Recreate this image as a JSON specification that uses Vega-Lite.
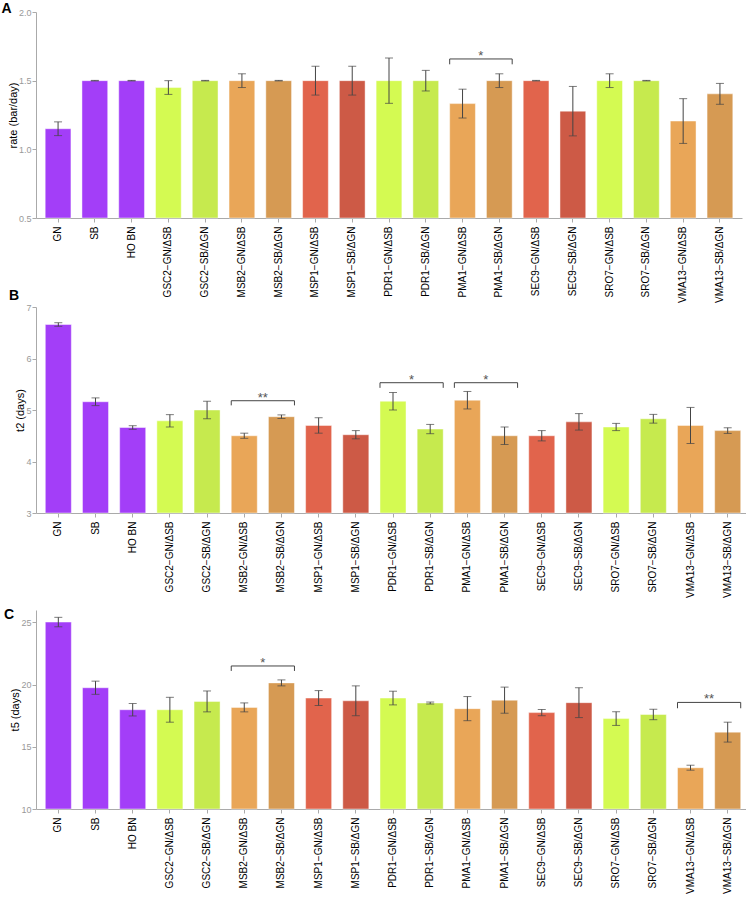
{
  "$schema": "https://vega.github.io/schema/vega-lite/v6.json",
  "padding": {"left": 1, "top": 2, "right": 0, "bottom": 0},
  "background": "white",
  "spacing": -14,
  "config": {
    "font": "Liberation Sans",
    "view": {"stroke": null},
    "axis": {"grid": false, "domainColor": "#aaaaaa", "tickColor": "#aaaaaa", "tickSize": 4, "titleFontWeight": "normal", "titleFontSize": 11, "titleColor": "#000000", "titleFont": "Liberation Sans", "labelFont": "Liberation Sans"},
    "axisX": {"labelAngle": -90, "labelFontSize": 10, "labelColor": "#000000", "labelPadding": 4, "title": null},
    "axisY": {"labelFontSize": 9, "labelColor": "#999999", "titlePadding": 0, "labelPadding": 1},
    "title": {"anchor": "start", "frame": "bounds", "fontSize": 14, "fontWeight": "bold", "font": "Liberation Sans", "color": "#000000", "baseline": "alphabetic", "dx": -6}
  },
  "datasets": {
    "rate": [
      {"strain": "GN", "v": 1.15, "e": 0.05},
      {"strain": "SB", "v": 1.5, "e": 0.002},
      {"strain": "HO BN", "v": 1.5, "e": 0.002},
      {"strain": "GSC2−GN/ΔSB", "v": 1.45, "e": 0.05},
      {"strain": "GSC2−SB/ΔGN", "v": 1.5, "e": 0.002},
      {"strain": "MSB2−GN/ΔSB", "v": 1.5, "e": 0.05},
      {"strain": "MSB2−SB/ΔGN", "v": 1.5, "e": 0.002},
      {"strain": "MSP1−GN/ΔSB", "v": 1.5, "e": 0.105},
      {"strain": "MSP1−SB/ΔGN", "v": 1.5, "e": 0.105},
      {"strain": "PDR1−GN/ΔSB", "v": 1.5, "e": 0.165},
      {"strain": "PDR1−SB/ΔGN", "v": 1.5, "e": 0.075},
      {"strain": "PMA1−GN/ΔSB", "v": 1.333, "e": 0.105},
      {"strain": "PMA1−SB/ΔGN", "v": 1.5, "e": 0.05},
      {"strain": "SEC9−GN/ΔSB", "v": 1.5, "e": 0.002},
      {"strain": "SEC9−SB/ΔGN", "v": 1.278, "e": 0.18},
      {"strain": "SRO7−GN/ΔSB", "v": 1.5, "e": 0.05},
      {"strain": "SRO7−SB/ΔGN", "v": 1.5, "e": 0.002},
      {"strain": "VMA13−GN/ΔSB", "v": 1.206, "e": 0.163},
      {"strain": "VMA13−SB/ΔGN", "v": 1.404, "e": 0.076}
    ],
    "t2": [
      {"strain": "GN", "v": 6.66, "e": 0.035},
      {"strain": "SB", "v": 5.16, "e": 0.075},
      {"strain": "HO BN", "v": 4.66, "e": 0.035},
      {"strain": "GSC2−GN/ΔSB", "v": 4.79, "e": 0.12},
      {"strain": "GSC2−SB/ΔGN", "v": 5.0, "e": 0.17},
      {"strain": "MSB2−GN/ΔSB", "v": 4.5, "e": 0.05},
      {"strain": "MSB2−SB/ΔGN", "v": 4.87, "e": 0.035},
      {"strain": "MSP1−GN/ΔSB", "v": 4.7, "e": 0.15},
      {"strain": "MSP1−SB/ΔGN", "v": 4.52, "e": 0.08},
      {"strain": "PDR1−GN/ΔSB", "v": 5.17, "e": 0.17},
      {"strain": "PDR1−SB/ΔGN", "v": 4.63, "e": 0.09},
      {"strain": "PMA1−GN/ΔSB", "v": 5.19, "e": 0.17},
      {"strain": "PMA1−SB/ΔGN", "v": 4.5, "e": 0.17},
      {"strain": "SEC9−GN/ΔSB", "v": 4.5, "e": 0.1},
      {"strain": "SEC9−SB/ΔGN", "v": 4.77, "e": 0.16},
      {"strain": "SRO7−GN/ΔSB", "v": 4.67, "e": 0.07},
      {"strain": "SRO7−SB/ΔGN", "v": 4.83, "e": 0.085},
      {"strain": "VMA13−GN/ΔSB", "v": 4.7, "e": 0.35},
      {"strain": "VMA13−SB/ΔGN", "v": 4.6, "e": 0.055}
    ],
    "t5": [
      {"strain": "GN", "v": 25.03, "e": 0.38},
      {"strain": "SB", "v": 19.75, "e": 0.53},
      {"strain": "HO BN", "v": 17.98, "e": 0.5},
      {"strain": "GSC2−GN/ΔSB", "v": 17.98, "e": 1.0},
      {"strain": "GSC2−SB/ΔGN", "v": 18.65, "e": 0.84},
      {"strain": "MSB2−GN/ΔSB", "v": 18.17, "e": 0.36},
      {"strain": "MSB2−SB/ΔGN", "v": 20.14, "e": 0.24},
      {"strain": "MSP1−GN/ΔSB", "v": 18.92, "e": 0.6},
      {"strain": "MSP1−SB/ΔGN", "v": 18.7, "e": 1.2},
      {"strain": "PDR1−GN/ΔSB", "v": 18.92, "e": 0.55},
      {"strain": "PDR1−SB/ΔGN", "v": 18.52, "e": 0.08},
      {"strain": "PMA1−GN/ΔSB", "v": 18.07, "e": 0.97},
      {"strain": "PMA1−SB/ΔGN", "v": 18.75, "e": 1.05},
      {"strain": "SEC9−GN/ΔSB", "v": 17.75, "e": 0.25},
      {"strain": "SEC9−SB/ΔGN", "v": 18.55, "e": 1.2},
      {"strain": "SRO7−GN/ΔSB", "v": 17.27, "e": 0.55},
      {"strain": "SRO7−SB/ΔGN", "v": 17.6, "e": 0.42},
      {"strain": "VMA13−GN/ΔSB", "v": 13.32, "e": 0.2},
      {"strain": "VMA13−SB/ΔGN", "v": 16.18, "e": 0.8}
    ],
    "brA": [
      {"left": "PMA1−GN/ΔSB", "right": "PMA1−SB/ΔGN", "y": 1.658, "ylow": 1.619, "star": "*"}
    ],
    "brB": [
      {"left": "MSB2−GN/ΔSB", "right": "MSB2−SB/ΔGN", "y": 5.18, "ylow": 5.09, "star": "**"},
      {"left": "PDR1−GN/ΔSB", "right": "PDR1−SB/ΔGN", "y": 5.53, "ylow": 5.43, "star": "*"},
      {"left": "PMA1−GN/ΔSB", "right": "PMA1−SB/ΔGN", "y": 5.53, "ylow": 5.43, "star": "*"}
    ],
    "brC": [
      {"left": "MSB2−GN/ΔSB", "right": "MSB2−SB/ΔGN", "y": 21.5, "ylow": 21.1, "star": "*"},
      {"left": "VMA13−GN/ΔSB", "right": "VMA13−SB/ΔGN", "y": 18.57, "ylow": 18.1, "star": "**"}
    ]
  },
  "vconcat": [
    {
      "width": 706, "height": 206,
      "title": {"text": "A", "offset": -8},
      "data": {"name": "rate"},
      "layer": [
        {
          "mark": {"type": "bar", "stroke": "white", "strokeOpacity": 0.45, "strokeWidth": 1},
          "encoding": {
            "x": {"field": "strain", "type": "nominal", "sort": null, "scale": {"paddingInner": 0.3, "paddingOuter": 0.25, "domain": ["GN","SB","HO BN","GSC2−GN/ΔSB","GSC2−SB/ΔGN","MSB2−GN/ΔSB","MSB2−SB/ΔGN","MSP1−GN/ΔSB","MSP1−SB/ΔGN","PDR1−GN/ΔSB","PDR1−SB/ΔGN","PMA1−GN/ΔSB","PMA1−SB/ΔGN","SEC9−GN/ΔSB","SEC9−SB/ΔGN","SRO7−GN/ΔSB","SRO7−SB/ΔGN","VMA13−GN/ΔSB","VMA13−SB/ΔGN"]}, "title": null},
            "y": {"field": "v", "type": "quantitative", "title": "rate (bar/day)", "scale": {"domain": [0.5, 2.0], "zero": false, "nice": false}, "axis": {"values": [0.5, 1.0, 1.5, 2.0], "format": ".1f"}},
            "y2": {"datum": 0.5},
            "color": {"field": "strain", "type": "nominal", "legend": null, "scale": {"domain": ["GN","SB","HO BN","GSC2−GN/ΔSB","GSC2−SB/ΔGN","MSB2−GN/ΔSB","MSB2−SB/ΔGN","MSP1−GN/ΔSB","MSP1−SB/ΔGN","PDR1−GN/ΔSB","PDR1−SB/ΔGN","PMA1−GN/ΔSB","PMA1−SB/ΔGN","SEC9−GN/ΔSB","SEC9−SB/ΔGN","SRO7−GN/ΔSB","SRO7−SB/ΔGN","VMA13−GN/ΔSB","VMA13−SB/ΔGN"], "range": ["#A33EF8","#A33EF8","#A33EF8","#D4FA52","#C6EA4E","#E9A658","#D69A53","#E1644C","#CD5A46","#D4FA52","#C6EA4E","#E9A658","#D69A53","#E1644C","#CD5A46","#D4FA52","#C6EA4E","#E9A658","#D69A53"]}}
          }
        },
        {
          "mark": {"type": "errorbar", "ticks": true, "size": 8, "color": "#444444", "thickness": 1},
          "encoding": {
            "x": {"field": "strain", "type": "nominal", "title": null},
            "y": {"field": "v", "type": "quantitative", "title": "rate (bar/day)"},
            "yError": {"field": "e"}
          }
        },
        {
          "data": {"name": "brA"},
          "mark": {"type": "rule", "color": "#444444"},
          "encoding": {
            "x": {"field": "left", "type": "nominal", "bandPosition": 0, "title": null},
            "x2": {"field": "right", "bandPosition": 1},
            "y": {"field": "y", "type": "quantitative"}
          }
        },
        {
          "data": {"name": "brA"},
          "mark": {"type": "rule", "color": "#444444"},
          "encoding": {
            "x": {"field": "left", "type": "nominal", "bandPosition": 0, "title": null},
            "y": {"field": "y", "type": "quantitative"},
            "y2": {"field": "ylow"}
          }
        },
        {
          "data": {"name": "brA"},
          "mark": {"type": "rule", "color": "#444444"},
          "encoding": {
            "x": {"field": "right", "type": "nominal", "bandPosition": 1, "title": null},
            "y": {"field": "y", "type": "quantitative"},
            "y2": {"field": "ylow"}
          }
        },
        {
          "data": {"name": "brA"},
          "mark": {"type": "text", "color": "#555555", "fontSize": 13, "baseline": "alphabetic", "dy": 1},
          "encoding": {
            "x": {"field": "left", "type": "nominal", "bandPosition": 1.21, "title": null},
            "y": {"field": "y", "type": "quantitative"},
            "text": {"field": "star"}
          }
        }
      ]
    },
    {
      "spacing": 10,
      "vconcat": [
        {
          "width": 714, "height": 206,
          "title": {"text": "B", "offset": 0},
          "data": {"name": "t2"},
          "layer": [
            {
              "mark": {"type": "bar", "stroke": "white", "strokeOpacity": 0.45, "strokeWidth": 1},
              "encoding": {
                "x": {"field": "strain", "type": "nominal", "sort": null, "scale": {"paddingInner": 0.3, "paddingOuter": 0.25, "domain": ["GN","SB","HO BN","GSC2−GN/ΔSB","GSC2−SB/ΔGN","MSB2−GN/ΔSB","MSB2−SB/ΔGN","MSP1−GN/ΔSB","MSP1−SB/ΔGN","PDR1−GN/ΔSB","PDR1−SB/ΔGN","PMA1−GN/ΔSB","PMA1−SB/ΔGN","SEC9−GN/ΔSB","SEC9−SB/ΔGN","SRO7−GN/ΔSB","SRO7−SB/ΔGN","VMA13−GN/ΔSB","VMA13−SB/ΔGN"]}, "title": null},
                "y": {"field": "v", "type": "quantitative", "title": "t2 (days)", "scale": {"domain": [3, 7], "zero": false, "nice": false}, "axis": {"values": [3, 4, 5, 6, 7], "format": "d"}},
                "y2": {"datum": 3},
                "color": {"field": "strain", "type": "nominal", "legend": null, "scale": {"domain": ["GN","SB","HO BN","GSC2−GN/ΔSB","GSC2−SB/ΔGN","MSB2−GN/ΔSB","MSB2−SB/ΔGN","MSP1−GN/ΔSB","MSP1−SB/ΔGN","PDR1−GN/ΔSB","PDR1−SB/ΔGN","PMA1−GN/ΔSB","PMA1−SB/ΔGN","SEC9−GN/ΔSB","SEC9−SB/ΔGN","SRO7−GN/ΔSB","SRO7−SB/ΔGN","VMA13−GN/ΔSB","VMA13−SB/ΔGN"], "range": ["#A33EF8","#A33EF8","#A33EF8","#D4FA52","#C6EA4E","#E9A658","#D69A53","#E1644C","#CD5A46","#D4FA52","#C6EA4E","#E9A658","#D69A53","#E1644C","#CD5A46","#D4FA52","#C6EA4E","#E9A658","#D69A53"]}}
              }
            },
            {
              "mark": {"type": "errorbar", "ticks": true, "size": 8, "color": "#444444", "thickness": 1},
              "encoding": {
                "x": {"field": "strain", "type": "nominal", "title": null},
                "y": {"field": "v", "type": "quantitative", "title": "t2 (days)"},
                "yError": {"field": "e"}
              }
            },
            {
              "data": {"name": "brB"},
              "mark": {"type": "rule", "color": "#444444"},
              "encoding": {
                "x": {"field": "left", "type": "nominal", "bandPosition": 0, "title": null},
                "x2": {"field": "right", "bandPosition": 1},
                "y": {"field": "y", "type": "quantitative"}
              }
            },
            {
              "data": {"name": "brB"},
              "mark": {"type": "rule", "color": "#444444"},
              "encoding": {
                "x": {"field": "left", "type": "nominal", "bandPosition": 0, "title": null},
                "y": {"field": "y", "type": "quantitative"},
                "y2": {"field": "ylow"}
              }
            },
            {
              "data": {"name": "brB"},
              "mark": {"type": "rule", "color": "#444444"},
              "encoding": {
                "x": {"field": "right", "type": "nominal", "bandPosition": 1, "title": null},
                "y": {"field": "y", "type": "quantitative"},
                "y2": {"field": "ylow"}
              }
            },
            {
              "data": {"name": "brB"},
              "mark": {"type": "text", "color": "#555555", "fontSize": 13, "baseline": "alphabetic", "dy": 1},
              "encoding": {
                "x": {"field": "left", "type": "nominal", "bandPosition": 1.21, "title": null},
                "y": {"field": "y", "type": "quantitative"},
                "text": {"field": "star"}
              }
            }
          ]
        },
        {
          "width": 714, "height": 199,
          "title": {"text": "C", "offset": -12},
          "data": {"name": "t5"},
          "layer": [
            {
              "mark": {"type": "bar", "stroke": "white", "strokeOpacity": 0.45, "strokeWidth": 1},
              "encoding": {
                "x": {"field": "strain", "type": "nominal", "sort": null, "scale": {"paddingInner": 0.3, "paddingOuter": 0.25, "domain": ["GN","SB","HO BN","GSC2−GN/ΔSB","GSC2−SB/ΔGN","MSB2−GN/ΔSB","MSB2−SB/ΔGN","MSP1−GN/ΔSB","MSP1−SB/ΔGN","PDR1−GN/ΔSB","PDR1−SB/ΔGN","PMA1−GN/ΔSB","PMA1−SB/ΔGN","SEC9−GN/ΔSB","SEC9−SB/ΔGN","SRO7−GN/ΔSB","SRO7−SB/ΔGN","VMA13−GN/ΔSB","VMA13−SB/ΔGN"]}, "title": null},
                "y": {"field": "v", "type": "quantitative", "title": "t5 (days)", "scale": {"domain": [10, 26], "zero": false, "nice": false}, "axis": {"values": [10, 15, 20, 25], "format": "d"}},
                "y2": {"datum": 10},
                "color": {"field": "strain", "type": "nominal", "legend": null, "scale": {"domain": ["GN","SB","HO BN","GSC2−GN/ΔSB","GSC2−SB/ΔGN","MSB2−GN/ΔSB","MSB2−SB/ΔGN","MSP1−GN/ΔSB","MSP1−SB/ΔGN","PDR1−GN/ΔSB","PDR1−SB/ΔGN","PMA1−GN/ΔSB","PMA1−SB/ΔGN","SEC9−GN/ΔSB","SEC9−SB/ΔGN","SRO7−GN/ΔSB","SRO7−SB/ΔGN","VMA13−GN/ΔSB","VMA13−SB/ΔGN"], "range": ["#A33EF8","#A33EF8","#A33EF8","#D4FA52","#C6EA4E","#E9A658","#D69A53","#E1644C","#CD5A46","#D4FA52","#C6EA4E","#E9A658","#D69A53","#E1644C","#CD5A46","#D4FA52","#C6EA4E","#E9A658","#D69A53"]}}
              }
            },
            {
              "mark": {"type": "errorbar", "ticks": true, "size": 8, "color": "#444444", "thickness": 1},
              "encoding": {
                "x": {"field": "strain", "type": "nominal", "title": null},
                "y": {"field": "v", "type": "quantitative", "title": "t5 (days)"},
                "yError": {"field": "e"}
              }
            },
            {
              "data": {"name": "brC"},
              "mark": {"type": "rule", "color": "#444444"},
              "encoding": {
                "x": {"field": "left", "type": "nominal", "bandPosition": 0, "title": null},
                "x2": {"field": "right", "bandPosition": 1},
                "y": {"field": "y", "type": "quantitative"}
              }
            },
            {
              "data": {"name": "brC"},
              "mark": {"type": "rule", "color": "#444444"},
              "encoding": {
                "x": {"field": "left", "type": "nominal", "bandPosition": 0, "title": null},
                "y": {"field": "y", "type": "quantitative"},
                "y2": {"field": "ylow"}
              }
            },
            {
              "data": {"name": "brC"},
              "mark": {"type": "rule", "color": "#444444"},
              "encoding": {
                "x": {"field": "right", "type": "nominal", "bandPosition": 1, "title": null},
                "y": {"field": "y", "type": "quantitative"},
                "y2": {"field": "ylow"}
              }
            },
            {
              "data": {"name": "brC"},
              "mark": {"type": "text", "color": "#555555", "fontSize": 13, "baseline": "alphabetic", "dy": 1},
              "encoding": {
                "x": {"field": "left", "type": "nominal", "bandPosition": 1.21, "title": null},
                "y": {"field": "y", "type": "quantitative"},
                "text": {"field": "star"}
              }
            }
          ]
        }
      ]
    }
  ]
}
